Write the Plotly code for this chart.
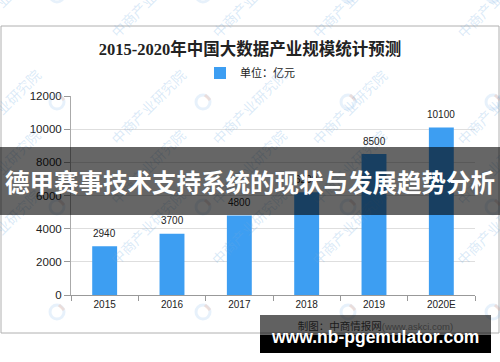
import plotly.graph_objects as go

years = ["2015", "2016", "2017", "2018", "2019", "2020E"]
values = [2940, 3700, 4800, 6200, 8500, 10100]
series_name = "单位：亿元"
title_text = "2015-2020年中国大数据产业规模统计预测"
banner_text = "德甲赛事技术支持系统的现状与发展趋势分析"
source_cn = "制图：中商情报网"
source_url = "(www.askci.com)"
site_text = "www.nb-pgemulator.com"
watermark = "中商产业研究院"

W, H = 500, 362
L, R, T, B = 71, 475, 96, 295


def xp(px):
    return (px - L) / (R - L)


def yp(py):
    return (B - py) / (B - T)


fig = go.Figure()
fig.add_trace(go.Bar(
    x=years, y=values, name=series_name, width=0.37,
    marker=dict(color="#3d9ef2", line=dict(width=0)),
    hoverinfo="skip",
))

annotations = []
shapes = []

# chart frame
shapes.append(dict(type="rect", xref="paper", yref="paper", layer="below",
                   x0=xp(1), x1=xp(499), y0=yp(333), y1=yp(26),
                   line=dict(color="#b0b0b0", width=1), fillcolor="white"))

# watermarks
logo_cols = [-88, 57, 203, 348, 493]
logo_rows = [-5, 102, 207, 312]
for lx in logo_cols:
    for ly in logo_rows:
        shapes.append(dict(type="circle", xref="paper", yref="paper", layer="above",
                           x0=xp(lx - 7), x1=xp(lx + 7), y0=yp(ly + 7), y1=yp(ly - 7),
                           line=dict(color="rgba(120,180,235,0.18)", width=3)))
        shapes.append(dict(type="path", xref="paper", yref="paper", layer="above",
                           path="M {} {} L {} {}".format(xp(lx + 2), yp(ly - 7), xp(lx + 7), yp(ly - 2)),
                           line=dict(color="rgba(240,150,110,0.22)", width=3)))
        annotations.append(dict(xref="paper", yref="paper", x=xp(lx + 46), y=yp(ly - 40),
                                text=watermark, showarrow=False, textangle=-45,
                                font=dict(family="Noto Sans CJK SC", size=14,
                                          color="rgba(110,170,225,0.25)")))

# data labels (x given as category index)
for i, v in enumerate(values):
    annotations.append(dict(x=i, y=v, xref="x", yref="y", text=str(v), showarrow=False,
                            yanchor="middle", yshift=13,
                            font=dict(family="Liberation Sans", size=10, color="#222")))

# banner
annotations.append(dict(xref="paper", yref="paper", x=xp(250), y=yp(181), xanchor="center",
                        yanchor="middle", width=502, height=68, borderpad=0, borderwidth=0,
                        bgcolor="rgba(0,0,0,0.6)", showarrow=False, text="<b>" + banner_text + "</b>",
                        font=dict(family="Noto Sans CJK SC", size=24.5, color="white")))

# bottom band
annotations.append(dict(xref="paper", yref="paper", x=xp(375.5), y=yp(325), xanchor="center",
                        yanchor="middle", width=231, height=20, borderpad=0, borderwidth=0,
                        bgcolor="rgba(0,0,0,0.62)", showarrow=False,
                        text=source_cn + "<span style='font-family:Liberation Sans;font-size:9.5px;color:#3a3a3a'>"
                        + source_url + "</span>",
                        font=dict(family="Noto Sans CJK SC", size=10.5, color="#1a1a1a")))
annotations.append(dict(xref="paper", yref="paper", x=xp(375.5), y=yp(344), xanchor="center",
                        yanchor="middle", width=231, height=18, borderpad=0, borderwidth=0,
                        bgcolor="#000000", showarrow=False, text=""))
annotations.append(dict(xref="paper", yref="paper", x=xp(375), y=yp(336.5), xanchor="center",
                        yanchor="middle", showarrow=False, text="<b>" + site_text + "</b>",
                        font=dict(family="Liberation Sans", size=17.5, color="white")))

fig.update_layout(
    width=W, height=H,
    margin=dict(l=L, r=W - R, t=T, b=H - B, pad=0),
    paper_bgcolor="white", plot_bgcolor="rgba(0,0,0,0)",
    title=dict(text="<b>" + title_text + "</b>", x=0.5, xref="container", xanchor="center",
               y=1 - 49 / H, yref="container", yanchor="middle",
               font=dict(family="Liberation Serif, Noto Sans CJK SC", size=16.5, color="#222")),
    showlegend=True,
    legend=dict(orientation="h", x=xp(200), xanchor="left", y=yp(73), yanchor="middle",
                font=dict(family="Noto Sans CJK SC", size=11, color="#222"),
                bgcolor="rgba(0,0,0,0)", itemclick=False),
    xaxis=dict(type="category", range=[-0.5, 5.5], showline=True, linecolor="#999", linewidth=1,
               ticks="outside", tickson="boundaries", ticklen=5, tickcolor="#999",
               showgrid=False, tickangle=0,
               tickfont=dict(family="Liberation Sans", size=10, color="#222"),
               fixedrange=True),
    yaxis=dict(range=[0, 12000], dtick=2000, tickformat="d", showline=True, linecolor="#aaa",
               linewidth=1, ticks="outside", ticklen=6, tickcolor="#999", gridcolor="#dedede",
               gridwidth=1, zeroline=False,
               tickfont=dict(family="Liberation Sans", size=11.5, color="#222"),
               fixedrange=True),
    shapes=shapes, annotations=annotations,
)

fig.write_html("out.html")
